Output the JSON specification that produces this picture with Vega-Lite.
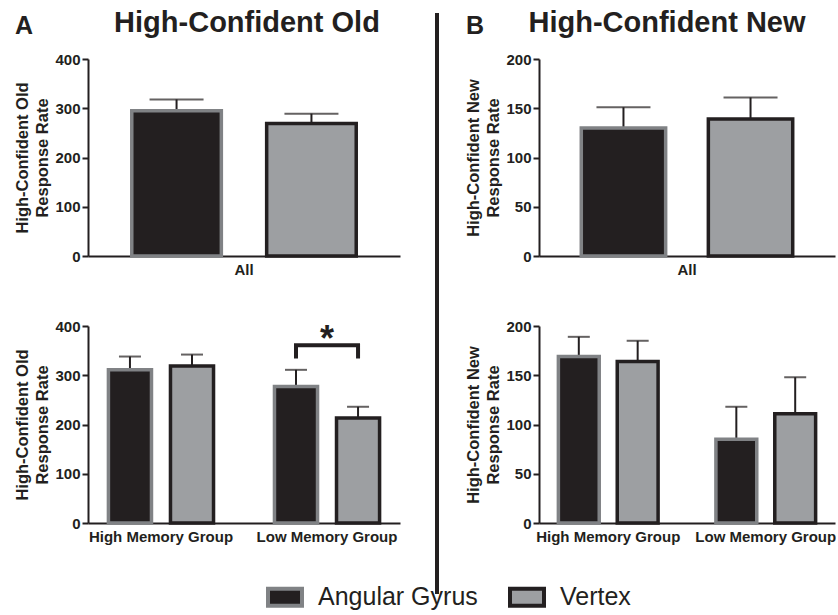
{
  "$schema": "https://vega.github.io/schema/vega-lite/v6.json",
  "background": "white",
  "padding": {"left": 14, "top": 9, "right": 0, "bottom": 0},
  "spacing": 26,
  "config": {
    "font": "Liberation Sans",
    "view": {"stroke": null},
    "axis": {"grid": false, "domainColor": "#231f20", "domainWidth": 2, "tickColor": "#231f20", "tickWidth": 2, "tickSize": 6, "labelFontSize": 15, "labelFontWeight": "bold", "labelColor": "#231f20", "titleFontSize": 16.5, "titleFontWeight": "bold", "titleColor": "#231f20"},
    "axisY": {"labelPadding": 2, "titlePadding": 4, "titleLineHeight": 20},
    "axisX": {"ticks": false, "labelPadding": 6, "labelAngle": 0},
    "title": {"color": "#231f20", "fontWeight": "bold", "font": "Liberation Sans"},
    "legend": {"orient": "none", "legendX": 178, "legendY": 519, "direction": "horizontal", "symbolType": "M-1,-0.5H1V0.5H-1Z", "symbolSize": 1156, "symbolStrokeWidth": 4, "symbolOpacity": 1, "labelFontSize": 25, "labelFontWeight": "normal", "labelColor": "#231f20", "labelOffset": 14, "columnPadding": 24, "padding": 0}
  },
  "datasets": {
    "allOld": [
      {"group": "All", "region": "Angular Gyrus", "value": 295, "upper": 318},
      {"group": "All", "region": "Vertex", "value": 269, "upper": 289}
    ],
    "allNew": [
      {"group": "All", "region": "Angular Gyrus", "value": 130, "upper": 151},
      {"group": "All", "region": "Vertex", "value": 139, "upper": 161}
    ],
    "memOld": [
      {"group": "High Memory Group", "region": "Angular Gyrus", "value": 311, "upper": 338},
      {"group": "High Memory Group", "region": "Vertex", "value": 319, "upper": 342},
      {"group": "Low Memory Group", "region": "Angular Gyrus", "value": 277, "upper": 311},
      {"group": "Low Memory Group", "region": "Vertex", "value": 213, "upper": 236}
    ],
    "memNew": [
      {"group": "High Memory Group", "region": "Angular Gyrus", "value": 169, "upper": 189},
      {"group": "High Memory Group", "region": "Vertex", "value": 164, "upper": 185},
      {"group": "Low Memory Group", "region": "Angular Gyrus", "value": 85, "upper": 118},
      {"group": "Low Memory Group", "region": "Vertex", "value": 111, "upper": 148}
    ],
    "bracket": [
      {"group": "Low Memory Group", "region": "Angular Gyrus", "y": 338, "o": 1},
      {"group": "Low Memory Group", "region": "Angular Gyrus", "y": 361, "o": 2},
      {"group": "Low Memory Group", "region": "Vertex", "y": 361, "o": 3},
      {"group": "Low Memory Group", "region": "Vertex", "y": 338, "o": 4}
    ],
    "star": [
      {"group": "Low Memory Group", "y": 349, "t": "*"}
    ],
    "divider": [{"top": 581, "bottom": 0}]
  },
  "resolve": {"scale": {"xOffset": "independent"}},
  "hconcat": [
    {
      "title": {"text": "A", "anchor": "start", "frame": "bounds", "fontSize": 25, "offset": -30},
      "spacing": 42,
      "resolve": {"scale": {"xOffset": "independent"}},
      "vconcat": [
        {
          "width": 312, "height": 197,
          "title": {"text": "High-Confident Old", "fontSize": 29, "frame": "group", "anchor": "middle", "offset": 14, "dx": 3},
          "data": {"name": "allOld"},
          "encoding": {
            "x": {"field": "group", "type": "nominal", "title": null, "scale": {"paddingOuter": 0.195, "paddingInner": 0}}
          },
          "layer": [
            {"mark": {"type": "rule", "strokeWidth": 2, "color": "#231f20"},
             "encoding": {"xOffset": {"field": "region", "type": "nominal", "scale": {"paddingInner": 0.336, "paddingOuter": 0}},
                          "y": {"field": "value", "type": "quantitative", "title": ["High-Confident Old", "Response Rate"], "scale": {"domain": [0, 400]}, "axis": {"values": [0, 100, 200, 300, 400]}},
                          "y2": {"field": "upper"}}},
            {"mark": {"type": "tick", "orient": "horizontal", "size": 54, "thickness": 2, "color": "#231f20"},
             "encoding": {"xOffset": {"field": "region", "type": "nominal"},
                          "y": {"field": "upper", "type": "quantitative", "title": ["High-Confident Old", "Response Rate"]}}},
            {"mark": {"type": "bar", "strokeWidth": 3.5},
             "encoding": {"xOffset": {"field": "region", "type": "nominal"},
                          "y": {"field": "value", "type": "quantitative", "title": ["High-Confident Old", "Response Rate"]},
                          "fill": {"field": "region", "type": "nominal", "scale": {"domain": ["Angular Gyrus", "Vertex"], "range": ["#231f20", "#9d9fa2"]}, "legend": {"title": null}},
                          "stroke": {"field": "region", "type": "nominal", "scale": {"domain": ["Angular Gyrus", "Vertex"], "range": ["#808285", "#231f20"]}, "legend": {"title": null}}}}
          ]
        },
        {
          "width": 312, "height": 197,
          "data": {"name": "memOld"},
          "encoding": {
            "x": {"field": "group", "type": "nominal", "title": null, "sort": ["High Memory Group", "Low Memory Group"], "scale": {"paddingOuter": 0.123, "paddingInner": 0.367}}
          },
          "layer": [
            {"mark": {"type": "rule", "strokeWidth": 2, "color": "#231f20"},
             "encoding": {"xOffset": {"field": "region", "type": "nominal", "scale": {"paddingInner": 0.306, "paddingOuter": 0}},
                          "y": {"field": "value", "type": "quantitative", "title": ["High-Confident Old", "Response Rate"], "scale": {"domain": [0, 400]}, "axis": {"values": [0, 100, 200, 300, 400]}},
                          "y2": {"field": "upper"}}},
            {"mark": {"type": "tick", "orient": "horizontal", "size": 22, "thickness": 2, "color": "#231f20"},
             "encoding": {"xOffset": {"field": "region", "type": "nominal"},
                          "y": {"field": "upper", "type": "quantitative", "title": ["High-Confident Old", "Response Rate"]}}},
            {"mark": {"type": "bar", "strokeWidth": 3.5},
             "encoding": {"xOffset": {"field": "region", "type": "nominal"},
                          "y": {"field": "value", "type": "quantitative", "title": ["High-Confident Old", "Response Rate"]},
                          "fill": {"field": "region", "type": "nominal", "scale": {"domain": ["Angular Gyrus", "Vertex"], "range": ["#231f20", "#9d9fa2"]}, "legend": {"title": null}},
                          "stroke": {"field": "region", "type": "nominal", "scale": {"domain": ["Angular Gyrus", "Vertex"], "range": ["#808285", "#231f20"]}, "legend": {"title": null}}}},
            {"data": {"name": "bracket"},
             "mark": {"type": "line", "strokeWidth": 4, "color": "#231f20", "strokeCap": "square", "strokeJoin": "miter"},
             "encoding": {"xOffset": {"field": "region", "type": "nominal"},
                          "y": {"field": "y", "type": "quantitative", "title": ["High-Confident Old", "Response Rate"]},
                          "order": {"field": "o", "type": "quantitative"}}},
            {"data": {"name": "star"},
             "mark": {"type": "text", "fontSize": 36, "fontWeight": "bold", "baseline": "alphabetic", "color": "#231f20"},
             "encoding": {"y": {"field": "y", "type": "quantitative", "title": ["High-Confident Old", "Response Rate"]},
                          "text": {"field": "t"}}}
          ]
        }
      ]
    },
    {
      "width": 11, "height": 535,
      "data": {"name": "divider"},
      "mark": {"type": "rule", "strokeWidth": 4, "color": "#231f20", "clip": false},
      "encoding": {
        "x": {"datum": 1, "type": "quantitative", "scale": {"domain": [0, 1]}, "axis": null},
        "y": {"field": "top", "type": "quantitative", "scale": {"domain": [0, 535], "zero": false, "nice": false}, "axis": null},
        "y2": {"field": "bottom"}
      }
    },
    {
      "title": {"text": "B", "anchor": "start", "frame": "bounds", "fontSize": 25, "offset": -30},
      "spacing": 42,
      "resolve": {"scale": {"xOffset": "independent"}},
      "vconcat": [
        {
          "width": 296, "height": 197,
          "title": {"text": "High-Confident New", "fontSize": 29, "frame": "group", "anchor": "middle", "offset": 14, "dx": -20},
          "data": {"name": "allNew"},
          "encoding": {
            "x": {"field": "group", "type": "nominal", "title": null, "scale": {"paddingOuter": 0.2, "paddingInner": 0}}
          },
          "layer": [
            {"mark": {"type": "rule", "strokeWidth": 2, "color": "#231f20"},
             "encoding": {"xOffset": {"field": "region", "type": "nominal", "scale": {"paddingInner": 0.336, "paddingOuter": 0}},
                          "y": {"field": "value", "type": "quantitative", "title": ["High-Confident New", "Response Rate"], "scale": {"domain": [0, 200]}, "axis": {"values": [0, 50, 100, 150, 200]}},
                          "y2": {"field": "upper"}}},
            {"mark": {"type": "tick", "orient": "horizontal", "size": 54, "thickness": 2, "color": "#231f20"},
             "encoding": {"xOffset": {"field": "region", "type": "nominal"},
                          "y": {"field": "upper", "type": "quantitative", "title": ["High-Confident New", "Response Rate"]}}},
            {"mark": {"type": "bar", "strokeWidth": 3.5},
             "encoding": {"xOffset": {"field": "region", "type": "nominal"},
                          "y": {"field": "value", "type": "quantitative", "title": ["High-Confident New", "Response Rate"]},
                          "fill": {"field": "region", "type": "nominal", "scale": {"domain": ["Angular Gyrus", "Vertex"], "range": ["#231f20", "#9d9fa2"]}, "legend": {"title": null}},
                          "stroke": {"field": "region", "type": "nominal", "scale": {"domain": ["Angular Gyrus", "Vertex"], "range": ["#808285", "#231f20"]}, "legend": {"title": null}}}}
          ]
        },
        {
          "width": 296, "height": 197,
          "data": {"name": "memNew"},
          "encoding": {
            "x": {"field": "group", "type": "nominal", "title": null, "sort": ["High Memory Group", "Low Memory Group"], "scale": {"paddingOuter": 0.123, "paddingInner": 0.367}}
          },
          "layer": [
            {"mark": {"type": "rule", "strokeWidth": 2, "color": "#231f20"},
             "encoding": {"xOffset": {"field": "region", "type": "nominal", "scale": {"paddingInner": 0.306, "paddingOuter": 0}},
                          "y": {"field": "value", "type": "quantitative", "title": ["High-Confident New", "Response Rate"], "scale": {"domain": [0, 200]}, "axis": {"values": [0, 50, 100, 150, 200]}},
                          "y2": {"field": "upper"}}},
            {"mark": {"type": "tick", "orient": "horizontal", "size": 22, "thickness": 2, "color": "#231f20"},
             "encoding": {"xOffset": {"field": "region", "type": "nominal"},
                          "y": {"field": "upper", "type": "quantitative", "title": ["High-Confident New", "Response Rate"]}}},
            {"mark": {"type": "bar", "strokeWidth": 3.5},
             "encoding": {"xOffset": {"field": "region", "type": "nominal"},
                          "y": {"field": "value", "type": "quantitative", "title": ["High-Confident New", "Response Rate"]},
                          "fill": {"field": "region", "type": "nominal", "scale": {"domain": ["Angular Gyrus", "Vertex"], "range": ["#231f20", "#9d9fa2"]}, "legend": {"title": null}},
                          "stroke": {"field": "region", "type": "nominal", "scale": {"domain": ["Angular Gyrus", "Vertex"], "range": ["#808285", "#231f20"]}, "legend": {"title": null}}}}
          ]
        }
      ]
    }
  ]
}
